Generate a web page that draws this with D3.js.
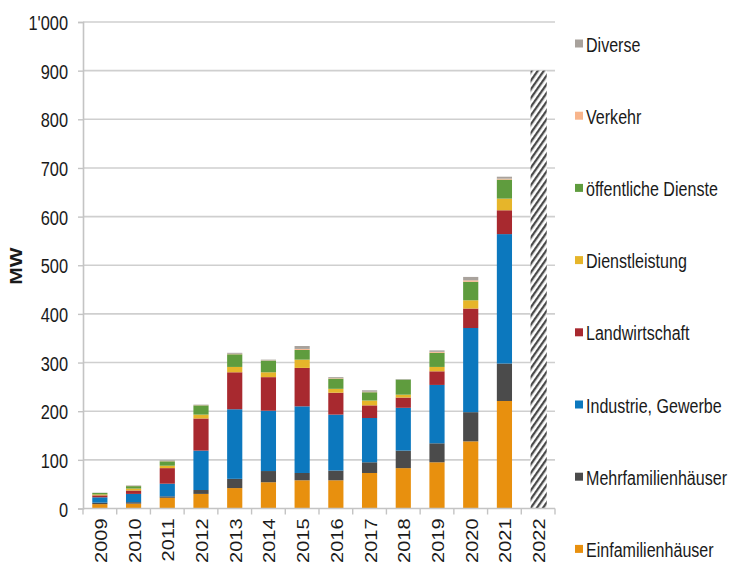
<!DOCTYPE html>
<html><head><meta charset="utf-8">
<script src="https://cdn.jsdelivr.net/npm/d3@7"></script>
<style>
html,body{margin:0;padding:0;background:#fff;}
svg{display:block;}
text{font-family:"Liberation Sans",Arial,sans-serif;fill:#1a1a1a;}
</style></head>
<body>
<svg id="chart" width="729" height="579"></svg>
<script>
const years = ["2009","2010","2011","2012","2013","2014","2015","2016","2017","2018","2019","2020","2021","2022"];
const seriesNames = ["Einfamilienhäuser","Mehrfamilienhäuser","Industrie, Gewerbe","Landwirtschaft","Dienstleistung","öffentliche Dienste","Verkehr","Diverse"];
const einfamilienhaeuser  = [9, 10, 22, 30, 42, 54, 58, 58, 73, 83, 95, 138, 221, 0];
const mehrfamilienhaeuser = [3, 3, 3, 8, 19, 23, 15, 20, 22, 36, 39, 60, 77, 0];
const industrieGewerbe    = [11, 17, 26, 81, 143, 124, 137, 115, 91, 88, 120, 173, 266, 0];
const landwirtschaft      = [4, 7, 32, 66, 76, 69, 79, 45, 26, 21, 28, 40, 49, 0];
const dienstleistung      = [2, 4, 5, 8, 11, 10, 17, 8, 10, 6, 9, 17, 24, 0];
const oeffentlicheDienste = [3, 5, 9, 19, 26, 24, 20, 21, 17, 31, 29, 38, 39, 0];
const verkehr             = [0, 0.5, 0.5, 0.5, 1, 0.5, 2, 1, 1, 0, 2, 3, 2, 0];
const diverse             = [0.5, 1, 1.5, 1, 2, 1.5, 6, 2, 3, 1, 3, 7, 4, 0];
const forecastYears  = ["2022"];
const forecastValues = [900];
const yTicks = [0,100,200,300,400,500,600,700,800,900,1000];
const yTickLabels = ["0","100","200","300","400","500","600","700","800","900","1'000"];
const yLabel = "MW";

const colors = ["#E8900E","#4B4B4B","#0C78BE","#A8292F","#E6B52A","#5F9C3E","#F8B58C","#A8A29C"];
const seriesValues = [einfamilienhaeuser,mehrfamilienhaeuser,industrieGewerbe,landwirtschaft,dienstleistung,oeffentlicheDienste,verkehr,diverse];

const SX = 0.78; // horizontal squash of the original picture
const svg = d3.select("#chart");
const x0 = 83, x1 = 555, yTop = 22, yBot = 508.5;

const table = years.map((y,i)=>{ const o={year:y}; seriesNames.forEach((s,k)=>o[s]=seriesValues[k][i]); return o; });
const stack = d3.stack().keys(seriesNames)(table);

const x = d3.scaleBand().domain(years).range([x0,x1]).paddingInner(0.55).paddingOuter(0.275);
const y = d3.scaleLinear().domain([0,1000]).range([yBot,yTop]);

// hatch pattern
const defs = svg.append("defs");
const pat = defs.append("pattern").attr("id","hatch").attr("patternUnits","userSpaceOnUse")
  .attr("width",5).attr("height",5).attr("patternTransform","rotate(35)");
pat.append("rect").attr("width",5).attr("height",5).attr("fill","#fff");
pat.append("rect").attr("x",0).attr("y",0).attr("width",2.3).attr("height",5).attr("fill","#4a4a4a");

// gridlines
svg.append("g").selectAll("line").data(yTicks.filter(d=>d>0)).join("line")
  .attr("x1",x0).attr("x2",x1).attr("y1",d=>y(d)).attr("y2",d=>y(d))
  .attr("stroke","#cfcfcf").attr("stroke-width",1.6);

// bars
svg.append("g").selectAll("g").data(stack).join("g").attr("fill",(d,i)=>colors[i])
  .selectAll("rect").data(d=>d).join("rect")
  .attr("x",d=>x(d.data.year)).attr("width",x.bandwidth())
  .attr("y",d=>y(d[1])).attr("height",d=>Math.max(0,y(d[0])-y(d[1])));

// forecast hatched bar
svg.append("g").selectAll("rect").data(forecastYears).join("rect")
  .attr("x",d=>x(d)).attr("width",x.bandwidth()+1)
  .attr("y",(d,i)=>y(forecastValues[i])).attr("height",(d,i)=>y(0)-y(forecastValues[i]))
  .attr("fill","url(#hatch)");

// left axis
const yAxis = svg.append("g").attr("transform",`translate(${x0},0)`)
  .call(d3.axisLeft(y).tickValues(yTicks).tickSize(5).tickPadding(0).tickFormat((d,i)=>yTickLabels[i]));
yAxis.select(".domain").attr("stroke","#c4c4c4").attr("stroke-width",1.6);
yAxis.selectAll(".tick line").attr("stroke","#c4c4c4").attr("stroke-width",1.4);
yAxis.selectAll(".tick text").attr("x",null).attr("dy",null)
  .attr("transform",`translate(-15,7.5) scale(${SX},1)`)
  .attr("text-anchor","end").style("font-size","21px").attr("fill","#1a1a1a");

// bottom axis (ticks between categories)
const xb = svg.append("g").attr("transform",`translate(0,${yBot})`);
xb.append("line").attr("x1",x0).attr("x2",x1).attr("stroke","#c4c4c4").attr("stroke-width",1.6);
const step = x.step();
xb.selectAll("line.tk").data(d3.range(years.length+1)).join("line").attr("class","tk")
  .attr("x1",i=>x0+i*(x1-x0)/years.length).attr("x2",i=>x0+i*(x1-x0)/years.length)
  .attr("y1",0).attr("y2",6).attr("stroke","#c4c4c4").attr("stroke-width",1.4);
xb.selectAll("text").data(years).join("text")
  .attr("transform",d=>`translate(${x(d)+x.bandwidth()/2+7},10) scale(${SX},1) rotate(-90)`)
  .attr("text-anchor","end").style("font-size","20px").text(d=>d);

// y label
svg.append("text").attr("transform",`translate(22,266) scale(${SX},1) rotate(-90)`)
  .attr("text-anchor","middle").style("font-size","21px").style("font-weight","bold").text(yLabel);

// legend
const legendOrder = seriesNames.map((s,i)=>i).reverse();
const lg = svg.append("g").selectAll("g").data(legendOrder).join("g")
  .attr("transform",(d,j)=>`translate(575,${44+j*72.2})`);
lg.append("rect").attr("x",0).attr("y",-4.5).attr("width",8).attr("height",8).attr("fill",d=>colors[d]);
lg.append("text").attr("transform",`translate(11,7.5) scale(0.765,1)`)
  .style("font-size","21px").text(d=>seriesNames[d]);
</script>
</body></html>
